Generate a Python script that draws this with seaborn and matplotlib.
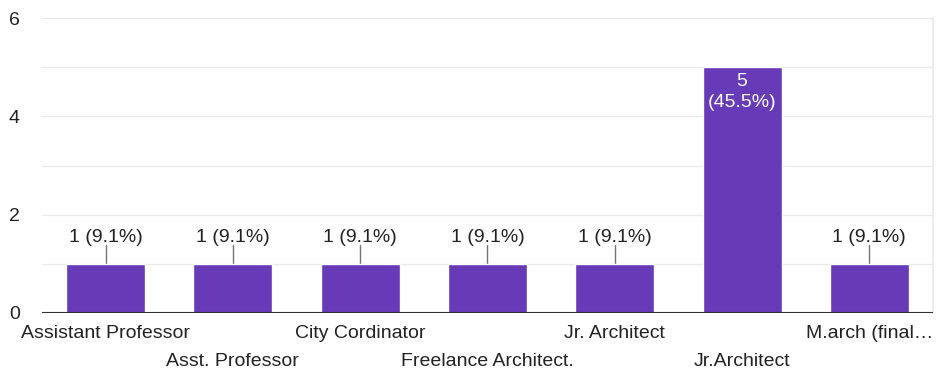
import matplotlib
matplotlib.use("Agg")
import matplotlib.pyplot as plt
import seaborn as sns
import pandas as pd

# Responses per role
roles = [
    "Assistant Professor",
    "Asst. Professor",
    "City Cordinator",
    "Freelance Architect.",
    "Jr. Architect",
    "Jr.Architect",
    "M.arch (final…",
]
counts = [1, 1, 1, 1, 1, 5, 1]
percents = [9.1, 9.1, 9.1, 9.1, 9.1, 45.5, 9.1]
y_ticks = [0, 2, 4, 6]

df = pd.DataFrame({"role": roles, "count": counts})

sns.set_theme(style="white")
plt.rcParams["font.family"] = ["Liberation Sans", "DejaVu Sans"]

FS = 14

fig = plt.figure(figsize=(9.37, 3.77), dpi=100)
ax = fig.add_axes([0.0448, 0.1698, 0.9509, 0.7822])

sns.barplot(data=df, x="role", y="count", color="#673ab7", saturation=1,
            width=0.62, ax=ax, zorder=3)

ax.set_xlim(-0.5, len(roles) - 0.5)
ax.set_ylim(0, 6)
ax.set_yticks(y_ticks)
for g in range(1, 7):
    ax.axhline(g, color="#ebebeb", lw=1, zorder=0)
ax.axhline(0, color="#333333", lw=1.5, zorder=4)

for s in ["top", "left", "bottom"]:
    ax.spines[s].set_visible(False)
ax.spines["right"].set_color("#ebebeb")

ax.set_xlabel("")
ax.set_ylabel("")
ax.tick_params(axis="y", length=0, labelsize=FS, labelcolor="#222222", pad=16)
ax.tick_params(axis="x", length=0, labelsize=FS, labelcolor="#222222", pad=9)

# Stagger category labels onto two rows
for i, lab in enumerate(ax.get_xticklabels()):
    if i % 2 == 1:
        lab.set_y(-0.094)

# Value labels
for i, (c, p) in enumerate(zip(counts, percents)):
    if c >= 3:
        ax.text(i, c - 0.12, f"{c}\n({p}%)", ha="center", va="top",
                color="white", fontsize=FS, linespacing=1.3, zorder=5)
    else:
        ax.plot([i, i], [c, c + 0.38], color="#757575", lw=1, zorder=2)
        ax.text(i, c + 0.53, f"{c} ({p}%)", ha="center", va="center",
                color="#222222", fontsize=FS, zorder=5)

fig.savefig("out.png", dpi=100, facecolor="white")
